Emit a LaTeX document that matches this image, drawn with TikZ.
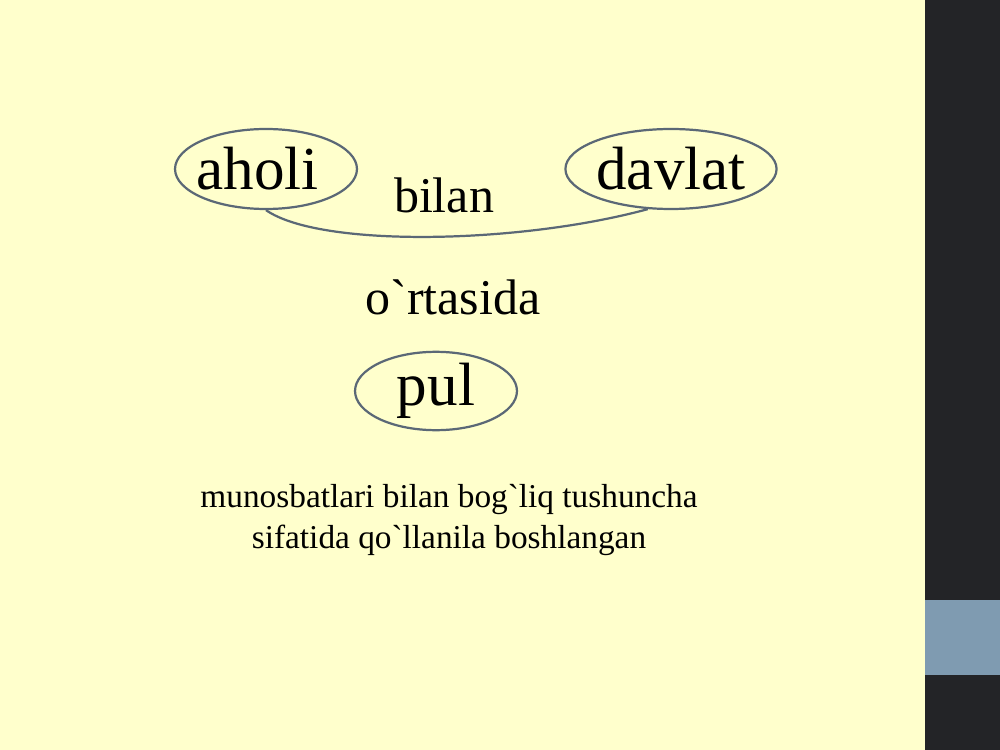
\documentclass[tikz,border=0pt]{standalone}
\usepackage{fontspec}
\setmainfont{Liberation Serif}[Ligatures=TeXOff]
\usetikzlibrary{shapes.geometric}
\definecolor{slidebg}{HTML}{FFFFCC}
\definecolor{barcol}{HTML}{232427}
\definecolor{barblue}{HTML}{7F9BB1}
\definecolor{ovalcol}{HTML}{5B6876}

\begin{document}
\begin{tikzpicture}[x=0.72pt,y=-0.72pt,
    oval/.style={ellipse,draw=ovalcol,line width=1.6pt,inner sep=0pt,font=\fontsize{44}{48}\selectfont},
    word/.style={inner sep=0pt,font=\fontsize{36}{40}\selectfont}]
      \fill[slidebg] (0,0) rectangle (1000,750);
      \fill[barcol] (925,0) rectangle (1000,750);
      \fill[barblue] (925,600) rectangle (1000,675);
      \useasboundingbox (0,0) rectangle (1000,750);
      \node[oval,minimum width=131pt,minimum height=57.6pt] (aholi) at (266,169) {\hbox to 0pt{\hss aholi\kern12pt\hss}};
      \node[oval,minimum width=145.4pt,minimum height=57.6pt] (davlat) at (671,169) {davlat};
      \node[oval,minimum width=116.6pt,minimum height=52.6pt] (pul) at (436,391) {pul};
      \node[word] (bilan) at (444,195) {bilan};
      \node[word] (ortasida) at (453,297) {o`rtasida};
      \node[word,align=center,font=\fontsize{24}{29.5}\selectfont] (izoh) at (449,520) {munosbatlari bilan bog`liq tushuncha\\ sifatida qo`llanila boshlangan};
      \draw[ovalcol,line width=1.6pt] (aholi.south) .. controls (320,248) and (520,244) .. (davlat.240);
    \end{tikzpicture}
\end{document}
